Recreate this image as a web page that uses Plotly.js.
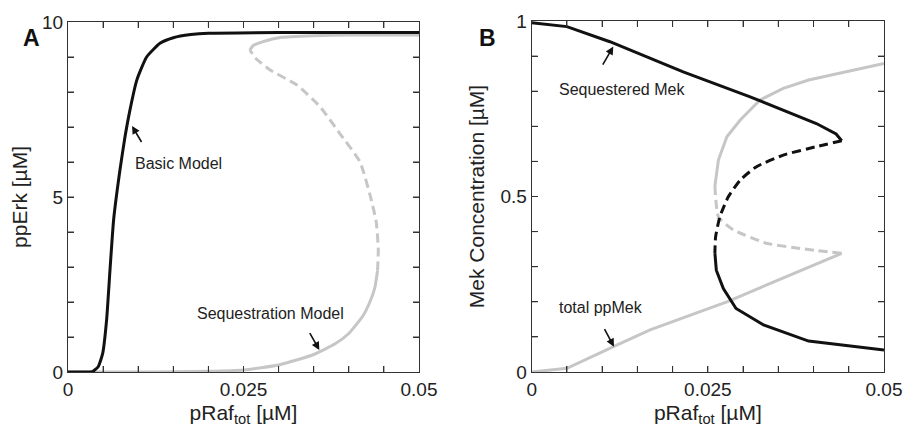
<!DOCTYPE html>
<html><head><meta charset="utf-8">
<script src="https://cdn.plot.ly/plotly-3.0.1.min.js"></script>
</head><body style="margin:0;background:#fff"><div id="chart"></div>
<script>
// Panel A: ppErk vs pRaf_tot
const basicX = [0, 0.003, 0.0035, 0.0043, 0.00494, 0.0055, 0.00598, 0.0065, 0.0074, 0.00812, 0.00883, 0.0098, 0.0112, 0.0131, 0.015, 0.0175, 0.02, 0.03, 0.05];
const basicY = [0, 0, 0.01, 0.15, 0.53, 1.49, 2.91, 4.35, 5.77, 6.72, 7.49, 8.34, 9.0, 9.39, 9.55, 9.64, 9.68, 9.7, 9.7];
const seqLowX = [0, 0.01, 0.015, 0.02, 0.025, 0.03, 0.035, 0.038, 0.04, 0.042, 0.043, 0.0437, 0.0441];
const seqLowY = [0, 0, 0.005, 0.02, 0.06, 0.2, 0.5, 0.8, 1.1, 1.6, 2.0, 2.4, 2.9];
const seqMidX = [0.0441, 0.0442, 0.0439, 0.0431, 0.0416, 0.0387, 0.0359, 0.0326, 0.0288, 0.0268, 0.0259];
const seqMidY = [2.9, 3.5, 4.3, 5.0, 6.0, 6.82, 7.58, 8.2, 8.63, 8.95, 9.2];
const seqHighX = [0.0259, 0.0264, 0.0278, 0.0302, 0.0349, 0.04, 0.05];
const seqHighY = [9.2, 9.33, 9.44, 9.56, 9.61, 9.63, 9.63];

// Panel B: Mek concentration vs pRaf_tot
const sqHighX = [0, 0.005, 0.0111, 0.0215, 0.031, 0.0404, 0.0432, 0.044];
const sqHighY = [0.995, 0.984, 0.941, 0.855, 0.784, 0.708, 0.678, 0.659];
const sqMidX = [0.044, 0.0404, 0.0357, 0.0319, 0.0296, 0.0279, 0.0267, 0.0261, 0.026];
const sqMidY = [0.659, 0.642, 0.618, 0.585, 0.547, 0.499, 0.442, 0.385, 0.339];
const sqLowX = [0.026, 0.0262, 0.0272, 0.029, 0.0329, 0.0393, 0.05];
const sqLowY = [0.339, 0.29, 0.238, 0.181, 0.134, 0.088, 0.063];
const ppLowX = [0, 0.005, 0.0116, 0.0168, 0.0277, 0.0357, 0.044];
const ppLowY = [0, 0.0105, 0.072, 0.12, 0.2, 0.267, 0.338];
const ppMidX = [0.044, 0.0381, 0.0333, 0.0286, 0.0265, 0.026];
const ppMidY = [0.338, 0.352, 0.367, 0.405, 0.442, 0.53];
const ppHighX = [0.026, 0.0265, 0.0277, 0.0296, 0.0324, 0.0357, 0.0393, 0.05];
const ppHighY = [0.53, 0.604, 0.67, 0.718, 0.775, 0.808, 0.832, 0.879];

const xTickVals = [0, 0.005, 0.01, 0.015, 0.02, 0.025, 0.03, 0.035, 0.04, 0.045, 0.05];
const xTickText = ['0', '', '', '', '', '0.025', '', '', '', '', '0.05'];
const yTickValsA = [0, 1, 2, 3, 4, 5, 6, 7, 8, 9, 10];
const yTickTextA = ['0', '', '', '', '', '5', '', '', '', '', '10'];
const yTickValsB = [0, 0.1, 0.2, 0.3, 0.4, 0.5, 0.6, 0.7, 0.8, 0.9, 1];
const yTickTextB = ['0', '', '', '', '', '0.5', '', '', '', '', '1'];

const BLACK = '#111111', GRAY = '#c6c6c6';
function tr(x, y, color, dash, xa, ya, shape) {
  return {x: x, y: y, mode: 'lines', type: 'scatter', xaxis: xa, yaxis: ya,
    line: {color: color, width: 3, dash: dash || 'solid', shape: shape, smoothing: 0.5}};
}
const dashPat = '9px,5px';
const data = [
  tr(seqLowX, seqLowY, GRAY, null, 'x', 'y', 'spline'),
  tr(seqMidX, seqMidY, GRAY, dashPat, 'x', 'y', 'spline'),
  tr(seqHighX, seqHighY, GRAY, null, 'x', 'y', 'spline'),
  tr(basicX, basicY, BLACK, null, 'x', 'y', 'spline'),
  tr(ppLowX, ppLowY, GRAY, null, 'x2', 'y2', 'linear'),
  tr(ppMidX, ppMidY, GRAY, dashPat, 'x2', 'y2', 'spline'),
  tr(ppHighX, ppHighY, GRAY, null, 'x2', 'y2', 'linear'),
  tr(sqHighX, sqHighY, BLACK, null, 'x2', 'y2', 'linear'),
  tr(sqMidX, sqMidY, BLACK, dashPat, 'x2', 'y2', 'spline'),
  tr(sqLowX, sqLowY, BLACK, null, 'x2', 'y2', 'linear')
];

const W = 903, H = 431;
const px = v => v / W;
const py = v => (H - v) / H;

const FONT = 'Liberation Sans, Arial, sans-serif';
const TICKC = '#333';
const TLEN = 6;
function xax(domain, anchor) {
  return {domain: domain, anchor: anchor, range: [0, 0.05], tickmode: 'array', tickvals: xTickVals, ticktext: xTickText,
    ticks: 'inside', ticklen: TLEN, tickwidth: 1, tickcolor: TICKC, showline: true, linecolor: '#333', linewidth: 1,
    mirror: 'ticks', showgrid: false, zeroline: false,
    tickfont: {size: 19, color: '#222', family: FONT},
    title: {text: 'pRaf<sub>tot</sub> [µM]', font: {size: 21, color: '#222', family: FONT}, standoff: 6}};
}
function yax(domain, anchor, range, vals, text, title, standoff) {
  return {domain: domain, anchor: anchor, range: range, tickmode: 'array', tickvals: vals, ticktext: text,
    ticks: 'inside', ticklen: TLEN, tickwidth: 1, tickcolor: TICKC, showline: true, linecolor: '#333', linewidth: 1,
    mirror: 'ticks', showgrid: false, zeroline: false,
    tickfont: {size: 19, color: '#222', family: FONT},
    title: {text: title, font: {size: 21, color: '#222', family: FONT}, standoff: standoff}};
}

// tick marks on all four sides, built from the tick arrays (pixel-length lines anchored to the frame)
function frameTicks(xr, yr, xVals, yVals) {
  const out = [];
  const ln = {color: TICKC, width: 1};
  xVals.slice(1, -1).forEach(v => {
    out.push({type: 'line', layer: 'above', xref: xr, yref: yr + ' domain', ysizemode: 'pixel', yanchor: 0, x0: v, x1: v, y0: 0, y1: TLEN, line: ln});
    out.push({type: 'line', layer: 'above', xref: xr, yref: yr + ' domain', ysizemode: 'pixel', yanchor: 1, x0: v, x1: v, y0: 0, y1: -TLEN, line: ln});
  });
  yVals.slice(1, -1).forEach(v => {
    out.push({type: 'line', layer: 'above', xref: xr + ' domain', yref: yr, xsizemode: 'pixel', xanchor: 0, x0: 0, x1: TLEN, y0: v, y1: v, line: ln});
    out.push({type: 'line', layer: 'above', xref: xr + ' domain', yref: yr, xsizemode: 'pixel', xanchor: 1, x0: 0, x1: -TLEN, y0: v, y1: v, line: ln});
  });
  return out;
}

const annFont = {size: 16, color: '#222', family: FONT};
function arrowAnn(xa, ya, x, y, ax, ay) {
  return {xref: xa, yref: ya, x: x, y: y, ax: ax, ay: ay, showarrow: true, arrowhead: 2, arrowsize: 1,
    arrowwidth: 1.6, arrowcolor: '#111', text: ' ', font: annFont};
}
const layout = {
  width: W, height: H, margin: {l: 0, r: 0, t: 0, b: 0}, showlegend: false,
  xaxis: xax([px(68), px(419)], 'y'),
  yaxis: yax([py(372), py(22)], 'x', [0, 10], yTickValsA, yTickTextA, 'ppErk [µM]', 8),
  xaxis2: xax([px(531.7), px(884)], 'y2'),
  yaxis2: yax([py(372), py(21)], 'x2', [0, 1], yTickValsB, yTickTextB, 'Mek Concentration [µM]', 10),
  shapes: frameTicks('x', 'y', xTickVals, yTickValsA).concat(frameTicks('x2', 'y2', xTickVals, yTickValsB)),
  annotations: [
    {xref: 'paper', yref: 'paper', x: px(21), y: py(23), text: '<b>A</b>', showarrow: false, font: {size: 23, color: '#111', family: FONT}},
    {xref: 'paper', yref: 'paper', x: px(487), y: py(23), text: '<b>B</b>', showarrow: false, font: {size: 23, color: '#111', family: FONT}},
    {xref: 'x', yref: 'y', x: 0.0158, y: 5.97, text: 'Basic Model', showarrow: false, font: annFont, xanchor: 'center'},
    arrowAnn('x', 'y', 0.00912, 7.03, 13, 22),
    {xref: 'x', yref: 'y', x: 0.02885, y: 1.66, text: 'Sequestration Model', showarrow: false, font: annFont, xanchor: 'center'},
    arrowAnn('x', 'y', 0.0358, 0.63, -13, -23),
    {xref: 'x2', yref: 'y2', x: 0.01275, y: 0.806, text: 'Sequestered Mek', showarrow: false, font: annFont, xanchor: 'center'},
    arrowAnn('x2', 'y2', 0.01158, 0.927, -14, 24),
    {xref: 'x2', yref: 'y2', x: 0.00984, y: 0.185, text: 'total ppMek', showarrow: false, font: annFont, xanchor: 'center'},
    arrowAnn('x2', 'y2', 0.01168, 0.072, -13, -24)
  ]
};
Plotly.newPlot('chart', data, layout, {displayModeBar: false});
</script></body></html>
